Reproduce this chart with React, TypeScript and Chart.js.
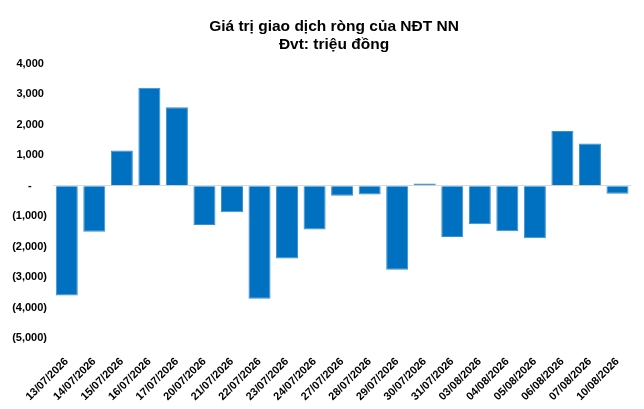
import React, { useEffect, useRef } from "react";
import { Chart, registerables } from "chart.js";

Chart.register(...registerables);

const categories: string[] = [
  "13/07/2026", "14/07/2026", "15/07/2026", "16/07/2026", "17/07/2026",
  "20/07/2026", "21/07/2026", "22/07/2026", "23/07/2026", "24/07/2026",
  "27/07/2026", "28/07/2026", "29/07/2026", "30/07/2026", "31/07/2026",
  "03/08/2026", "04/08/2026", "05/08/2026", "06/08/2026", "07/08/2026",
  "10/08/2026",
];

const netValues: number[] = [
  -3600, -1510, 1160, 3220, 2580, -1290, -870, -3710, -2390, -1440,
  -330, -285, -2760, 75, -1680, -1260, -1490, -1720, 1800, 1390, -260,
];

const titleLines: string[] = ["Giá trị giao dịch ròng của NĐT NN", "Đvt: triệu đồng"];

const yMin = -5000;
const yMax = 4000;
const yStep = 1000;

const FONT = "'Liberation Sans', Arial, sans-serif";

function formatTick(v: number): string {
  if (v === 0) return "-     ";
  const s = Math.abs(v).toLocaleString("en-US");
  return v < 0 ? `(${s})` : `${s} `;
}

export default function App() {
  const canvasRef = useRef<HTMLCanvasElement | null>(null);

  useEffect(() => {
    if (!canvasRef.current) return;

    const titlePlugin = {
      id: "customTitle",
      afterDraw(chart: any) {
        const ctx = chart.ctx;
        ctx.save();
        ctx.fillStyle = "#000";
        ctx.font = `bold 15.5px ${FONT}`;
        ctx.textAlign = "center";
        ctx.textBaseline = "middle";
        ctx.fillText(titleLines[0], 334, 27);
        ctx.fillText(titleLines[1], 334, 45);
        ctx.restore();
      },
    };

    const chart = new Chart(canvasRef.current, {
      type: "bar",
      data: {
        labels: categories,
        datasets: [
          {
            data: netValues,
            backgroundColor: "#0070C0",
            borderColor: "#3a8fd0",
            borderWidth: 1,
            barPercentage: 0.8,
            categoryPercentage: 1,
          },
        ],
      },
      options: {
        responsive: true,
        maintainAspectRatio: false,
        animation: false,
        layout: { padding: { top: 64, right: 8, left: 0, bottom: 0 } },
        plugins: {
          legend: { display: false },
          title: { display: false },
          tooltip: { enabled: false },
        },
        scales: {
          x: {
            grid: { display: false, drawTicks: false },
            border: { display: false },
            ticks: {
              autoSkip: false,
              maxRotation: 45,
              minRotation: 45,
              padding: 17,
              color: "#000",
              font: { family: FONT, size: 11, weight: "bold" },
            },
            afterFit(scale: any) {
              scale.height = 71;
            },
          },
          y: {
            min: yMin,
            max: yMax,
            grid: {
              drawTicks: false,
              color: (c: any) => (c.tick && c.tick.value === 0 ? "#d9d9d9" : "transparent"),
              lineWidth: 1,
            },
            border: { display: false },
            ticks: {
              stepSize: yStep,
              padding: 6,
              color: "#000",
              font: { family: FONT, size: 11, weight: "bold" },
              callback: (v: any) => formatTick(Number(v)),
            },
            afterFit(scale: any) {
              scale.width = 53;
            },
          },
        },
      },
      plugins: [titlePlugin],
    });

    return () => chart.destroy();
  }, []);

  return (
    <div style={{ position: "fixed", left: 0, top: 0, width: 644, height: 409, background: "#fff" }}>
      <canvas ref={canvasRef} />
    </div>
  );
}
